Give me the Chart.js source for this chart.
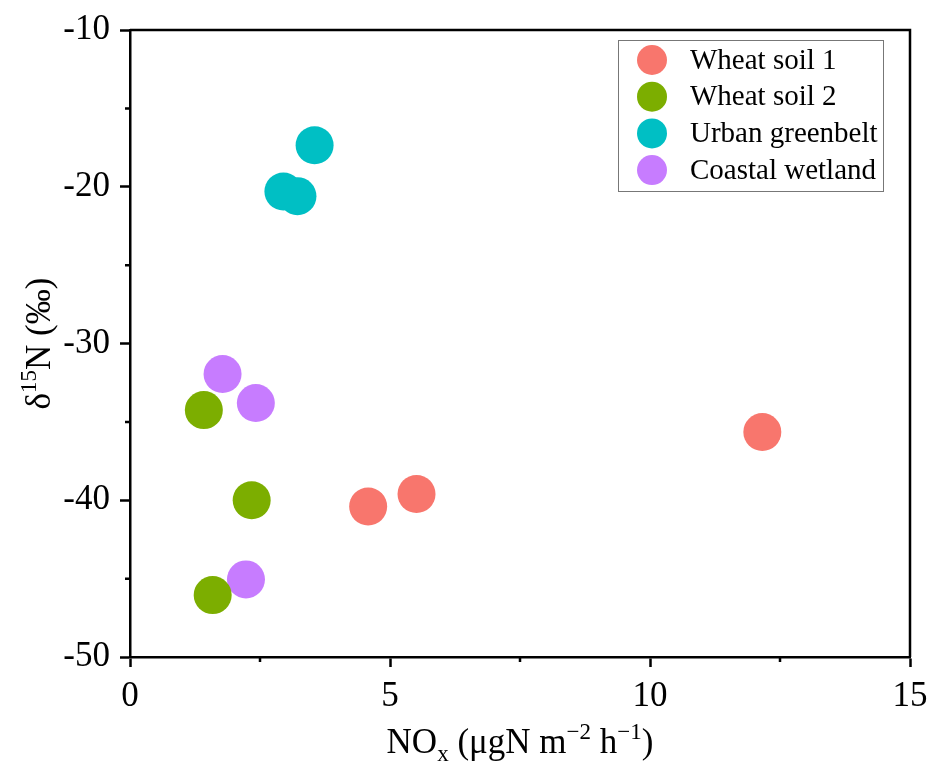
<!DOCTYPE html>
<html lang="en">
<head>
  <meta charset="UTF-8">
  <title>NOx vs d15N</title>
  <style>
    body { margin: 0; background: #fff; }
    #wrap { width: 933px; height: 765px; }
  </style>
  <script src="https://cdn.jsdelivr.net/npm/chart.js"></script>
</head>
<body>
  <div id="wrap"><canvas id="scatterChart" width="933" height="765"></canvas></div>

  <script>
    // data
    const groups = ['Wheat soil 1', 'Wheat soil 2', 'Urban greenbelt', 'Coastal wetland'];
    const groupColors = ['#F8766D', '#7CAE00', '#00BFC4', '#C77CFF'];
    const noxValues = [
      [4.58, 5.51, 12.16],
      [1.42, 2.34, 1.59],
      [2.95, 3.22, 3.55],
      [1.78, 2.42, 2.23]
    ];
    const d15nValues = [
      [-40.4, -39.6, -35.65],
      [-34.25, -40.0, -46.05],
      [-20.3, -20.6, -17.35],
      [-31.95, -33.8, -45.05]
    ];
    const xTicks = [0, 5, 10, 15];
    const yTicks = [-10, -20, -30, -40, -50];

    const serif = '"Liberation Serif", "Times New Roman", serif';

    const datasets = groups.map((name, i) => ({
      label: name,
      data: noxValues[i].map((x, j) => ({ x: x, y: d15nValues[i][j] })),
      backgroundColor: groupColors[i],
      borderWidth: 0,
      pointRadius: 19,
      pointHoverRadius: 19
    }));

    // frame, minor ticks, axis titles, legend
    const decorations = {
      id: 'decorations',
      afterDraw(chart) {
        const ctx = chart.ctx;
        const area = chart.chartArea;
        const xs = chart.scales.x, ys = chart.scales.y;
        ctx.save();
        ctx.strokeStyle = '#000';
        ctx.lineWidth = 2.5;
        ctx.beginPath();
        ctx.moveTo(area.left, area.top);
        ctx.lineTo(area.right, area.top);
        ctx.lineTo(area.right, area.bottom);
        ctx.stroke();

        // minor ticks
        ctx.beginPath();
        for (let v = 2.5; v < 15; v += 5) {
          const px = xs.getPixelForValue(v);
          ctx.moveTo(px, area.bottom);
          ctx.lineTo(px, area.bottom + 5);
        }
        for (let v = -15; v > -50; v -= 10) {
          const py = ys.getPixelForValue(v);
          ctx.moveTo(area.left, py);
          ctx.lineTo(area.left - 5, py);
        }
        ctx.stroke();

        // x title: NOx (μgN m−2 h−1)
        const big = 'px ' + serif;
        const main = 35, small = 23;
        const parts = [
          ['NO', main, 0], ['x', small, 8], [' (\u03bcgN m', main, 0], ['\u22122', small, -14],
          [' h', main, 0], ['\u22121', small, -14], [')', main, 0]
        ];
        let total = 0;
        parts.forEach(p => { ctx.font = p[1] + big; total += ctx.measureText(p[0]).width; });
        let cx = (area.left + area.right) / 2 - total / 2;
        const baseY = 753;
        ctx.fillStyle = '#000';
        ctx.textBaseline = 'alphabetic';
        ctx.textAlign = 'left';
        parts.forEach(p => {
          ctx.font = p[1] + big;
          ctx.fillText(p[0], cx, baseY + p[2]);
          cx += ctx.measureText(p[0]).width;
        });

        // y title: δ15N (‰)
        const yparts = [['\u03b4', main, 0], ['15', small, -14], ['N (\u2030)', main, 0]];
        let ytotal = 0;
        yparts.forEach(p => { ctx.font = p[1] + big; ytotal += ctx.measureText(p[0]).width; });
        ctx.translate(50, (area.top + area.bottom) / 2);
        ctx.rotate(-Math.PI / 2);
        let yx = -ytotal / 2;
        yparts.forEach(p => {
          ctx.font = p[1] + big;
          ctx.fillText(p[0], yx, p[2]);
          yx += ctx.measureText(p[0]).width;
        });
        ctx.setTransform(1, 0, 0, 1, 0, 0);

        // legend
        const lx = 618, ly = 40, lw = 265, lh = 151;
        ctx.fillStyle = '#fff';
        ctx.fillRect(lx, ly, lw, lh);
        ctx.strokeStyle = '#777';
        ctx.lineWidth = 1;
        ctx.strokeRect(lx + 0.5, ly + 0.5, lw, lh);
        ctx.font = '29' + big;
        ctx.textBaseline = 'middle';
        chart.data.datasets.forEach((ds, i) => {
          const rowY = ly + 20 + i * 36.7;
          ctx.fillStyle = ds.backgroundColor;
          ctx.beginPath();
          ctx.arc(lx + 34, rowY, 15, 0, Math.PI * 2);
          ctx.fill();
          ctx.fillStyle = '#000';
          ctx.fillText(ds.label, lx + 72, rowY + 1);
        });
        ctx.restore();
      }
    };

    const ctx = document.getElementById('scatterChart').getContext('2d');
    const scatterChart = new Chart(ctx, {
      type: 'scatter',
      data: { datasets: datasets },
      options: {
        responsive: false,
        animation: false,
        layout: { padding: { top: 30, right: 23, left: 0, bottom: 0 } },
        plugins: { legend: { display: false }, tooltip: { enabled: false } },
        scales: {
          x: {
            min: 0, max: 15,
            afterFit: s => { s.height = 108; s.paddingLeft = 0; s.paddingRight = 0; },
            afterBuildTicks: s => { s.ticks = xTicks.map(v => ({ value: v })); },
            ticks: { font: { family: serif, size: 35 }, color: '#000', padding: 9 },
            grid: { drawOnChartArea: false, tickLength: 10, tickWidth: 2.5, tickColor: '#000' },
            border: { display: true, width: 2.5, color: '#000' }
          },
          y: {
            min: -50, max: -10,
            afterFit: s => { s.width = 130; s.paddingTop = 0; s.paddingBottom = 0; },
            afterBuildTicks: s => { s.ticks = yTicks.map(v => ({ value: v })); },
            ticks: { font: { family: serif, size: 35 }, color: '#000', padding: 10 },
            grid: { drawOnChartArea: false, tickLength: 10, tickWidth: 2.5, tickColor: '#000' },
            border: { display: true, width: 2.5, color: '#000' }
          }
        }
      },
      plugins: [decorations]
    });
  </script>
</body>
</html>
